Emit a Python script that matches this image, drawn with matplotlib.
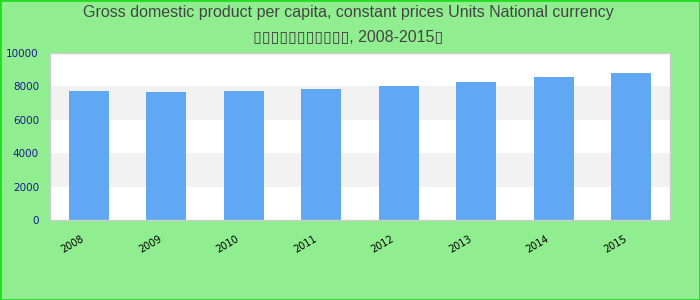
import matplotlib
matplotlib.use("Agg")
import matplotlib.pyplot as plt
import matplotlib.transforms as mtransforms
from matplotlib.patches import Rectangle

years = ["2008", "2009", "2010", "2011", "2012", "2013", "2014", "2015"]
gdp_per_capita = [7700, 7640, 7700, 7820, 8000, 8240, 8540, 8780]
y_ticks = [0, 2000, 4000, 6000, 8000, 10000]

title_line1 = "Gross domestic product per capita, constant prices Units National currency"
title_line2 = "\u25af" * 11 + ", 2008-2015" + "\u25af"

fig = plt.figure(figsize=(7, 3), dpi=100, facecolor="#90ee90")
ax = fig.add_axes([50 / 700, 80 / 300, 620 / 700, 167 / 300])
ax.set_facecolor("white")

# alternating horizontal bands
for i, lo in enumerate(y_ticks[:-1]):
    if i % 2 == 1:
        ax.axhspan(lo, y_ticks[i + 1], color="#f2f2f2", zorder=0, lw=0)

x = range(len(years))
ax.bar(x, gdp_per_capita, width=0.52, color="#61a8f4", zorder=2)

ax.set_xlim(-0.5, len(years) - 0.5)
ax.set_ylim(0, 10000)
ax.tick_params(axis="x", length=0, pad=4)
ax.tick_params(axis="y", length=0, pad=8)
ax.set_yticks(y_ticks)
ax.set_yticklabels([str(v) for v in y_ticks], color="#1a1a8c", fontsize=7.5,
                   family="DejaVu Sans")
ax.set_xticks(list(x))
ax.set_xticklabels(years, rotation=30, fontsize=7, ha="right",
                   rotation_mode="anchor", family="DejaVu Sans")
shift = mtransforms.ScaledTranslation(-8 / 100, -8 / 100, fig.dpi_scale_trans)
for lbl in ax.get_xticklabels():
    lbl.set_transform(lbl.get_transform() + shift)

for s in ax.spines.values():
    s.set_color("#cccccc")
    s.set_linewidth(1)

fig.text(348 / 700, 1 - 13 / 300, title_line1, ha="center", va="center",
         fontsize=11.5, color="#444444", family=["Liberation Sans", "DejaVu Sans"])
fig.text(348 / 700, 1 - 37 / 300, title_line2, ha="center", va="center",
         fontsize=11.5, color="#444444", family=["Liberation Sans", "DejaVu Sans"])

fig.patches.append(Rectangle((0, 0), 1, 1, transform=fig.transFigure,
                             fill=False, edgecolor="#22dd22", linewidth=2))

fig.savefig("out.png", dpi=100, facecolor=fig.get_facecolor())
